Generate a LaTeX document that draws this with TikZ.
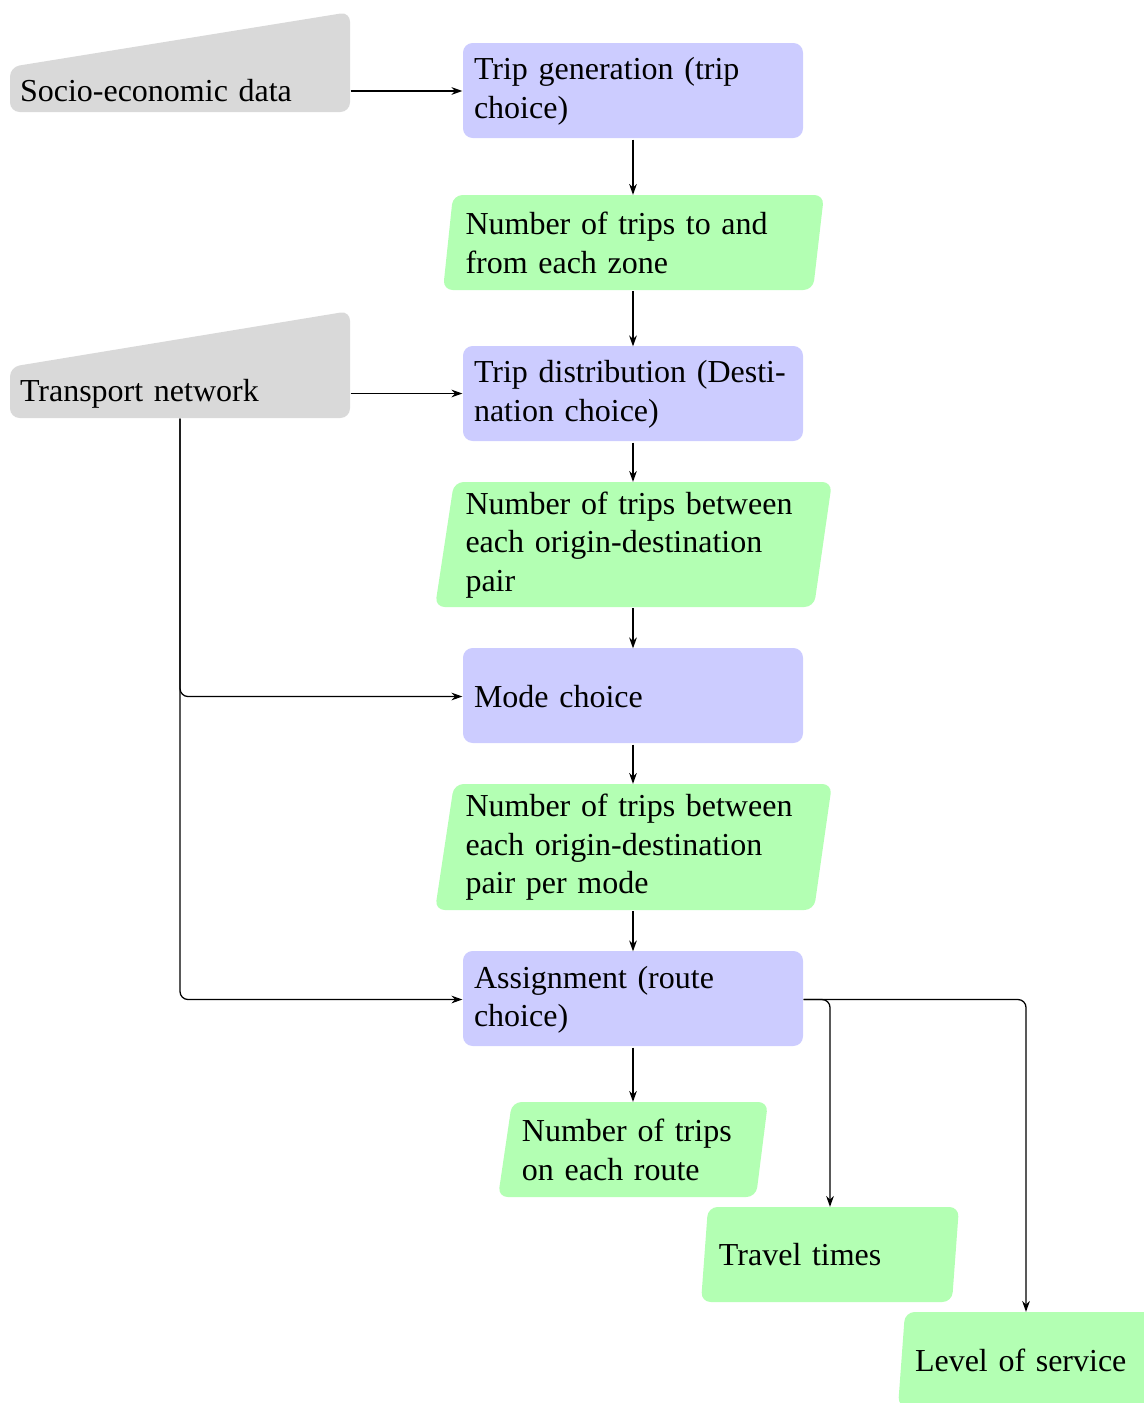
\documentclass[tikz,border=0pt]{standalone}
\usepackage{fontspec}
\setmainfont{Liberation Serif}
\usetikzlibrary{arrows.meta}
\definecolor{procfill}{HTML}{CCCCFF}
\definecolor{datafill}{HTML}{B3FFB3}
\definecolor{inputfill}{HTML}{D9D9D9}
\tikzset{
  box/.style={rectangle, inner sep=0pt, align=left, font=\fontsize{10}{12}\selectfont},
  procbox/.style={box, minimum width=106.25pt, minimum height=29.69pt, text width=99.375pt},
  wide/.style={box, text width=104.69pt},
  narrow/.style={box, text width=69.38pt, minimum height=29.69pt},
  inputbox/.style={box, minimum width=106.25pt, text width=100pt},
  flow/.style={draw=black, line width=0.4pt, -{Stealth[length=3.4pt,width=2.4pt]}, rounded corners=2.5pt},
  rc/.style={rounded corners=3pt},
}
\begin{document}
\begin{tikzpicture}[x=0.3125pt, y=-0.3125pt]
\useasboundingbox (0,0) rectangle (1144,1403);

% manual-input shapes
\fill[inputfill, rc] (10,67) -- (350,12) -- (350,112) -- (10,112) -- cycle;
\fill[inputfill, rc] (10,367) -- (350,311) -- (350,418) -- (10,418) -- cycle;

% process boxes
\fill[procfill, rc] (463,43) rectangle (803,138);
\fill[procfill, rc] (463,346) rectangle (803,441);
\fill[procfill, rc] (463,648) rectangle (803,743);
\fill[procfill, rc] (463,951) rectangle (803,1046);

% data parallelograms
\fill[datafill, rc] (453,195) -- (824,195) -- (813,290) -- (443,290) -- cycle;
\fill[datafill, rc] (454,482) -- (832,482) -- (814,607) -- (435,607) -- cycle;
\fill[datafill, rc] (454,784) -- (832,784) -- (814,910) -- (435,910) -- cycle;
\fill[datafill, rc] (512,1102) -- (768,1102) -- (756,1197) -- (498,1197) -- cycle;
\fill[datafill, rc] (708,1207) -- (959,1207) -- (952,1302) -- (701,1302) -- cycle;
\fill[datafill, rc] (905,1312) -- (1154,1312) -- (1147,1407) -- (898,1407) -- cycle;

% labels
\node[inputbox, minimum height=13.13pt] (se) at (180,91) {Socio-economic data};
\node[inputbox, minimum height=15.31pt] (tn) at (180,393.5) {Transport network};

\node[procbox] (tg) at (633,91.5) {Trip generation (trip\\choice)};
\node[procbox] (td) at (633,394.5) {Trip distribution (Desti-\\nation choice)};
\node[procbox] (mc) at (633,696.5) {Mode choice};
\node[procbox] (as) at (633,999.5) {Assignment (route\\choice)};

\node[wide, minimum width=119.06pt, minimum height=29.69pt] (g1) at (633,243)
  {Number of trips to and\\from each zone};
\node[wide, minimum width=124.06pt, minimum height=39.06pt] (g2) at (633,545)
  {Number of trips between\\each origin-destination\\pair};
\node[wide, minimum width=124.06pt, minimum height=39.38pt] (g3) at (633,847.5)
  {Number of trips between\\each origin-destination\\pair per mode};
\node[narrow, minimum width=84.38pt] (g4) at (633,1150) {Number of trips\\on each route};
\node[narrow, minimum width=80.63pt] (tt) at (830,1255) {Travel times};
\node[narrow, minimum width=80pt] (ls) at (1026,1360) {Level of service};

% connectors
\draw[flow] (se.east) -- (se.east -| tg.west);
\draw[flow] (tg.south) -- (g1.north);
\draw[flow] (g1.south) -- (td.north);
\draw[flow] (tn.east) -- (tn.east -| td.west);
\draw[flow] (td.south) -- (g2.north);
\draw[flow] (g2.south) -- (mc.north);
\draw[flow] (tn.south) |- (mc.west);
\draw[flow] (mc.south) -- (g3.north);
\draw[flow] (g3.south) -- (as.north);
\draw[flow] (tn.south) |- (as.west);
\draw[flow] (as.south) -- (g4.north);
\draw[flow] (as.east) -| (tt.north);
\draw[flow] (as.east) -| (ls.north);
\end{tikzpicture}
\end{document}
